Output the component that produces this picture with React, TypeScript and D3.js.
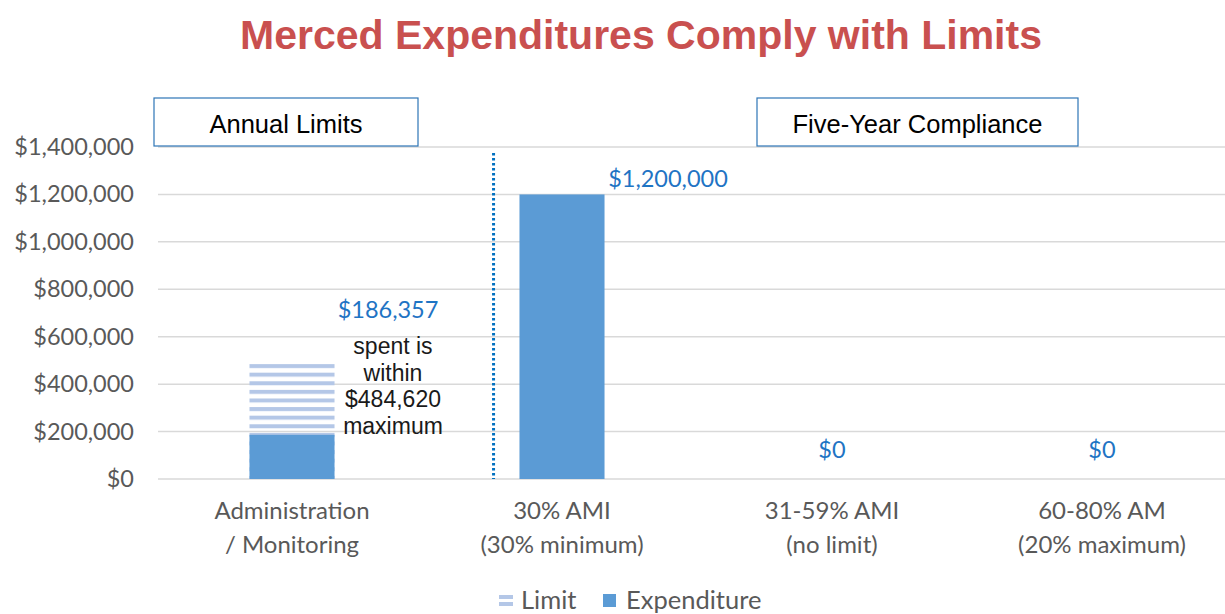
import * as d3 from "d3";
import { useEffect, useRef } from "react";

const categories = ["admin", "ami30", "ami31", "ami60"];
const categoryLines = [
  ["Administration", "/ Monitoring"],
  ["30% AMI", "(30% minimum)"],
  ["31-59% AMI", "(no limit)"],
  ["60-80% AM", "(20% maximum)"],
];
const limitValues = [484620, null, null, null];
const expenditureValues = [186357, 1200000, 0, 0];
const yTicks = [0, 200000, 400000, 600000, 800000, 1000000, 1200000, 1400000];
const noteLines = ["spent is", "within", "$484,620", "maximum"];

const WIDTH = 1225;
const HEIGHT = 614;
const blue = "#5b9bd5";
const stripe = "#b4c7e7";
const labelBlue = "#1f74c4";
const axisGray = "#595959";
const calibri = "Lato, 'Open Sans', sans-serif";
const arial = "'Liberation Sans', Arial, sans-serif";

export default function App() {
  const ref = useRef<SVGSVGElement>(null);

  useEffect(() => {
    if (!ref.current) return;
    const svg = d3.select(ref.current);
    svg.selectAll("*").remove();

    const x = d3
      .scaleBand<string>()
      .domain(categories)
      .range([157, 1237])
      .paddingInner(0.685)
      .paddingOuter(0.3425);
    const y = d3.scaleLinear().domain([0, 1400000]).range([479, 147]);

    const defs = svg.append("defs");
    const pat = defs
      .append("pattern")
      .attr("id", "limit-stripes")
      .attr("patternUnits", "userSpaceOnUse")
      .attr("width", 8)
      .attr("height", 8.6)
      .attr("y", y(limitValues[0] as number));
    pat.append("rect").attr("width", 8).attr("height", 4).attr("fill", stripe);

    // title
    svg
      .append("text")
      .attr("x", 641)
      .attr("y", 49)
      .attr("text-anchor", "middle")
      .style("font-family", arial)
      .style("font-weight", "bold")
      .style("font-size", "41px")
      .style("fill", "#c9504f")
      .text("Merced Expenditures Comply with Limits");

    // gridlines
    svg
      .append("g")
      .selectAll("line")
      .data(yTicks)
      .join("line")
      .attr("x1", 158)
      .attr("x2", WIDTH)
      .attr("y1", (d) => y(d))
      .attr("y2", (d) => y(d))
      .attr("stroke", "#d9d9d9")
      .attr("stroke-width", 1.5);

    // y labels
    svg
      .append("g")
      .selectAll("text")
      .data(yTicks)
      .join("text")
      .attr("x", 134)
      .attr("y", (d) => y(d) + 8)
      .attr("text-anchor", "end")
      .style("font-family", calibri)
      .style("font-size", "23.5px")
      .style("fill", axisGray)
      .text((d) => d3.format("$,")(d));

    // section boxes
    const boxes = [
      { label: "Annual Limits", x0: 154, x1: 418 },
      { label: "Five-Year Compliance", x0: 757, x1: 1078 },
    ];
    const bg = svg.append("g");
    boxes.forEach((b) => {
      bg.append("rect")
        .attr("x", b.x0)
        .attr("y", 98)
        .attr("width", b.x1 - b.x0)
        .attr("height", 48)
        .attr("fill", "#fff")
        .attr("stroke", "#2e75b6")
        .attr("stroke-width", 1.2);
      bg.append("text")
        .attr("x", (b.x0 + b.x1) / 2)
        .attr("y", 133)
        .attr("text-anchor", "middle")
        .style("font-family", arial)
        .style("font-size", "25.5px")
        .style("fill", "#000")
        .text(b.label);
    });

    // divider
    const divX = (x("ami30") ?? 0) - 0.096 * x.step();
    svg
      .append("line")
      .attr("x1", divX)
      .attr("x2", divX)
      .attr("y1", 153)
      .attr("y2", y(0))
      .attr("stroke", "#0070c0")
      .attr("stroke-width", 3)
      .attr("stroke-dasharray", "2.5 2.5");

    // limit bars
    svg
      .append("g")
      .selectAll("rect")
      .data(categories.map((c, i) => ({ c, v: limitValues[i] })).filter((d) => d.v != null))
      .join("rect")
      .attr("x", (d) => x(d.c) ?? 0)
      .attr("width", x.bandwidth())
      .attr("y", (d) => y(d.v as number))
      .attr("height", (d) => y(0) - y(d.v as number))
      .attr("fill", "url(#limit-stripes)");

    // expenditure bars
    svg
      .append("g")
      .selectAll("rect")
      .data(categories.map((c, i) => ({ c, v: expenditureValues[i] })))
      .join("rect")
      .attr("x", (d) => x(d.c) ?? 0)
      .attr("width", x.bandwidth())
      .attr("y", (d) => y(d.v))
      .attr("height", (d) => y(0) - y(d.v))
      .attr("fill", blue);

    // data labels
    const labelPos = [
      { dx: 96, y: 318 },
      { dx: 106, y: 187 },
      { dx: 0, y: 458 },
      { dx: 0, y: 458 },
    ];
    svg
      .append("g")
      .selectAll("text")
      .data(categories.map((c, i) => ({ c, v: expenditureValues[i], p: labelPos[i] })))
      .join("text")
      .attr("x", (d) => (x(d.c) ?? 0) + x.bandwidth() / 2 + d.p.dx)
      .attr("y", (d) => d.p.y)
      .attr("text-anchor", "middle")
      .style("font-family", calibri)
      .style("font-size", "23.5px")
      .style("fill", labelBlue)
      .text((d) => d3.format("$,")(d.v));

    // note
    const noteX = (x("admin") ?? 0) + x.bandwidth() / 2 + 101;
    svg
      .append("g")
      .selectAll("text")
      .data(noteLines)
      .join("text")
      .attr("x", noteX)
      .attr("y", (_d, i) => 354 + i * 26.5)
      .attr("text-anchor", "middle")
      .style("font-family", arial)
      .style("font-size", "23px")
      .style("fill", "#1a1a1a")
      .text((d) => d);

    // x labels
    const xl = svg.append("g");
    categories.forEach((c, i) => {
      categoryLines[i].forEach((line, j) => {
        xl.append("text")
          .attr("x", (x(c) ?? 0) + x.bandwidth() / 2)
          .attr("y", 519 + j * 34)
          .attr("text-anchor", "middle")
          .style("font-family", calibri)
          .style("font-size", "24px")
          .style("fill", axisGray)
          .text(line);
      });
    });

    // legend
    const lg = svg.append("g");
    const legY = 601;
    lg.append("rect").attr("x", 499).attr("y", legY - 6).attr("width", 14).attr("height", 4).attr("fill", stripe);
    lg.append("rect").attr("x", 499).attr("y", legY + 1).attr("width", 14).attr("height", 4).attr("fill", stripe);
    lg.append("text")
      .attr("x", 521)
      .attr("y", legY + 8)
      .style("font-family", calibri)
      .style("font-size", "25.5px")
      .style("fill", axisGray)
      .text("Limit");
    lg.append("rect").attr("x", 603).attr("y", legY - 7).attr("width", 13).attr("height", 13).attr("fill", blue);
    lg.append("text")
      .attr("x", 626)
      .attr("y", legY + 8)
      .style("font-family", calibri)
      .style("font-size", "25.5px")
      .style("fill", axisGray)
      .text("Expenditure");
  }, []);

  return (
    <svg
      ref={ref}
      width={WIDTH}
      height={HEIGHT}
      style={{ position: "absolute", left: 0, top: 0, background: "#fff" }}
    />
  );
}
